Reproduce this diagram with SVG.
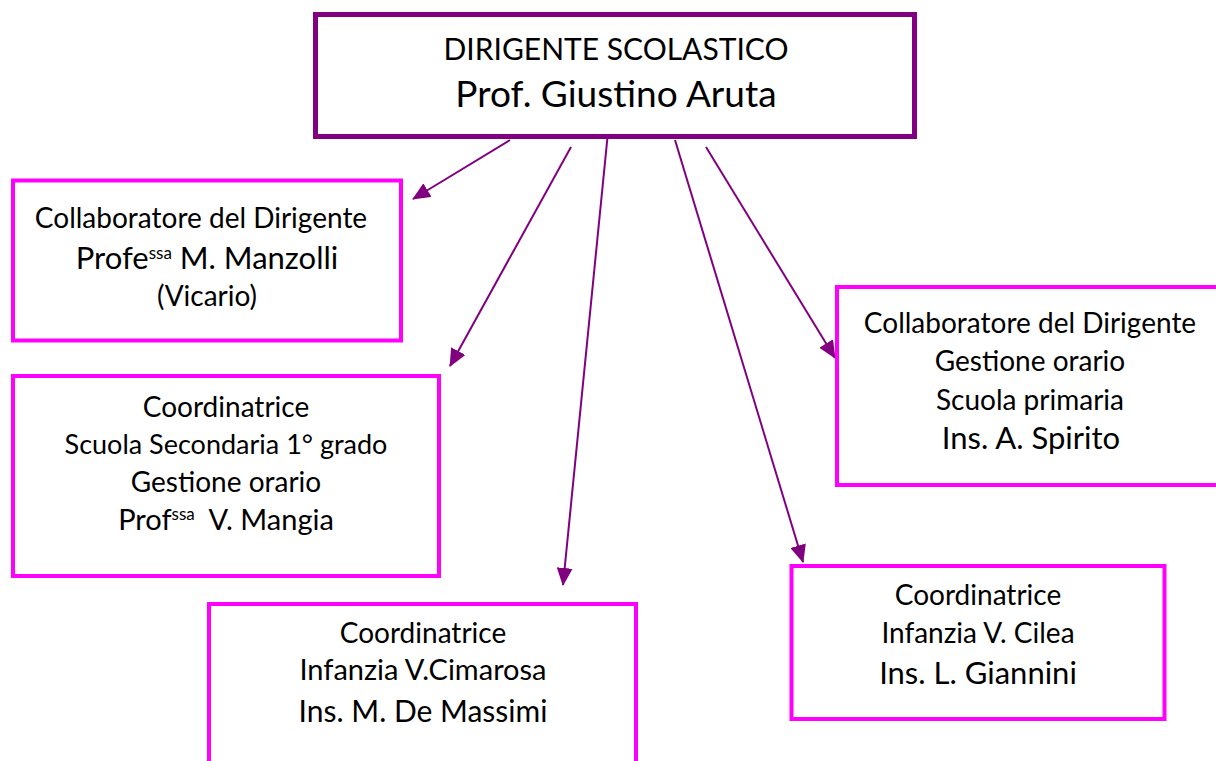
<svg xmlns="http://www.w3.org/2000/svg" width="1216" height="761" viewBox="0 0 1216 761">
<defs>
<style>
.top{fill:#fff;stroke:#800080;stroke-width:5}
.box{fill:#fff;stroke:#ff00ff;stroke-width:4}
text{font-family:"Lato","Open Sans",sans-serif;fill:#000;text-anchor:middle}
.c{stroke:#800080;stroke-width:2;fill:none;marker-end:url(#ah)}
.sup{font-size:17px}
</style>
<marker id="ah" markerUnits="userSpaceOnUse" markerWidth="18" markerHeight="16" refX="17" refY="8" orient="auto" viewBox="0 0 18 16">
<path d="M0,0 L18,8 L0,16 Z" fill="#800080"/>
</marker>
</defs>
<g id="connectors">
<line class="c" x1="510" y1="140" x2="413" y2="199"/>
<line class="c" x1="571" y1="147" x2="450" y2="366"/>
<line class="c" x1="608" y1="132" x2="563" y2="585"/>
<line class="c" x1="675" y1="140" x2="803" y2="562"/>
<line class="c" x1="706" y1="147" x2="835" y2="358"/>
</g>
<g id="dirigente">
<rect class="top" x="315.5" y="14.5" width="599" height="122"/>
<text x="616" y="60" style="font-size:30px">DIRIGENTE SCOLASTICO</text>
<text x="616" y="107" style="font-size:37px">Prof. Giustino Aruta</text>
</g>
<g id="vicario" style="font-size:28px">
<rect class="box" x="13" y="180.5" width="388" height="160"/>
<text x="201" y="228">Collaboratore del Dirigente</text>
<text x="207" y="269" style="font-size:31px">Profe<tspan class="sup" dy="-10">ssa</tspan><tspan dy="10"> M. Manzolli</tspan></text>
<text x="207" y="306" style="font-size:28px">(Vicario)</text>
</g>
<g id="secondaria" style="font-size:28px">
<rect class="box" x="13" y="376" width="426" height="200"/>
<text x="226" y="417">Coordinatrice</text>
<text x="226" y="454" style="font-size:27px">Scuola Secondaria 1° grado</text>
<text x="226" y="492">Gestione orario</text>
<text x="226" y="530" style="font-size:29px">Prof<tspan class="sup" dy="-10">ssa</tspan><tspan dy="10">&#160; V. Mangia</tspan></text>
</g>
<g id="primaria" style="font-size:28px">
<rect class="box" x="837" y="287" width="390" height="198"/>
<text x="1030" y="333">Collaboratore del Dirigente</text>
<text x="1030" y="371">Gestione orario</text>
<text x="1030" y="410">Scuola primaria</text>
<text x="1031" y="449" style="font-size:31px">Ins. A. Spirito</text>
</g>
<g id="cilea" style="font-size:28px">
<rect class="box" x="791.5" y="566" width="373" height="153"/>
<text x="978" y="605">Coordinatrice</text>
<text x="978" y="643">Infanzia V. Cilea</text>
<text x="978" y="684" style="font-size:31px">Ins. L. Giannini</text>
</g>
<g id="cimarosa" style="font-size:28px">
<rect class="box" x="209" y="604" width="427" height="170"/>
<text x="423" y="643">Coordinatrice</text>
<text x="423" y="680" style="font-size:29px">Infanzia V.Cimarosa</text>
<text x="423" y="722" style="font-size:30px">Ins. M. De Massimi</text>
</g>
</svg>
